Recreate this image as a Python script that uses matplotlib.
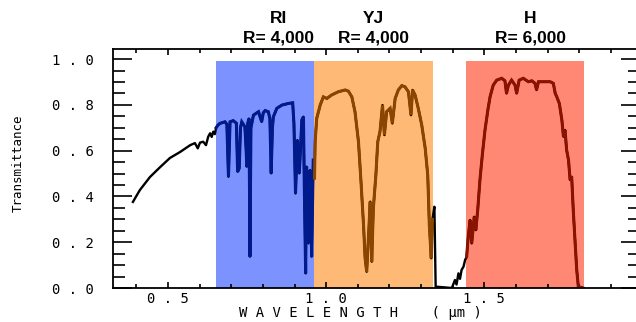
"""Atmospheric transmittance with spectrograph bands (RI, YJ, H)."""

import matplotlib

matplotlib.use("Agg")
import matplotlib.pyplot as plt
import numpy as np
from matplotlib.ticker import MultipleLocator

# transmittance curve (wavelength in micron)
wavelength = np.array([
    0.389, 0.411, 0.443, 0.475, 0.506, 0.538, 0.570, 0.585, 0.594, 0.601,
    0.611, 0.620, 0.627, 0.633, 0.638, 0.643, 0.648, 0.652,
    # RI
    0.658, 0.664, 0.680, 0.686, 0.691, 0.696, 0.706, 0.716, 0.720, 0.725,
    0.729, 0.733, 0.743, 0.747, 0.749, 0.752, 0.756, 0.759, 0.762, 0.770,
    0.786, 0.796, 0.801, 0.807, 0.817, 0.822, 0.826, 0.830, 0.833, 0.844,
    0.860, 0.880, 0.894, 0.898, 0.903, 0.909, 0.915, 0.923, 0.928, 0.931,
    0.935, 0.938, 0.944, 0.949, 0.954, 0.959,
    # YJ
    0.963, 0.965, 0.970, 0.981, 0.991, 1.002, 1.017, 1.038, 1.060, 1.070,
    1.081, 1.091, 1.102, 1.110, 1.118, 1.123, 1.128, 1.134, 1.139, 1.144,
    1.149, 1.157, 1.163, 1.170, 1.178, 1.184, 1.191, 1.202, 1.209, 1.218,
    1.228, 1.239, 1.249, 1.260, 1.268, 1.273, 1.281, 1.291, 1.302, 1.313,
    1.321, 1.326, 1.332, 1.336,
    # gap between YJ and H
    1.342, 1.346, 1.397, 1.400, 1.407, 1.412, 1.418, 1.423, 1.428, 1.434,
    1.439,
    # H
    1.444, 1.449, 1.455, 1.460, 1.468, 1.473, 1.479, 1.486, 1.494, 1.502,
    1.511, 1.518, 1.528, 1.539, 1.555, 1.565, 1.570, 1.576, 1.586, 1.597,
    1.602, 1.610, 1.623, 1.639, 1.650, 1.660, 1.665, 1.671, 1.686, 1.708,
    1.718, 1.724, 1.729, 1.737, 1.745, 1.750, 1.755, 1.760, 1.766, 1.771,
    1.776, 1.781, 1.787, 1.792, 1.797, 1.812,
])
transmittance = np.array([
    0.376, 0.428, 0.485, 0.528, 0.568, 0.594, 0.624, 0.633, 0.610, 0.635,
    0.639, 0.624, 0.661, 0.676, 0.660, 0.683, 0.672, 0.700,
    0.712, 0.719, 0.726, 0.715, 0.486, 0.726, 0.731, 0.720, 0.508, 0.523,
    0.700, 0.726, 0.704, 0.600, 0.530, 0.720, 0.740, 0.137, 0.700, 0.755,
    0.770, 0.726, 0.765, 0.775, 0.770, 0.740, 0.501, 0.700, 0.748, 0.785,
    0.799, 0.806, 0.809, 0.719, 0.413, 0.646, 0.501, 0.734, 0.748, 0.428,
    0.064, 0.530, 0.195, 0.515, 0.137, 0.559,
    0.480, 0.639, 0.741, 0.799, 0.835, 0.828, 0.843, 0.857, 0.865, 0.860,
    0.835, 0.770, 0.639, 0.464, 0.275, 0.130, 0.071, 0.231, 0.377, 0.115,
    0.348, 0.493, 0.639, 0.683, 0.799, 0.668, 0.770, 0.785, 0.719, 0.828,
    0.865, 0.884, 0.879, 0.857, 0.755, 0.865, 0.843, 0.785, 0.712, 0.610,
    0.493, 0.275, 0.130, 0.300,
    0.355, 0.006, 0.000, 0.010, 0.035, 0.015, 0.064, 0.040, 0.079, 0.093,
    0.122,
    0.137, 0.224, 0.297, 0.195, 0.311, 0.253, 0.341, 0.472, 0.588, 0.690,
    0.777, 0.835, 0.886, 0.908, 0.916, 0.905, 0.850, 0.886, 0.908, 0.886,
    0.850, 0.908, 0.916, 0.901, 0.905, 0.894, 0.865, 0.901, 0.901, 0.901,
    0.894, 0.850, 0.835, 0.806, 0.734, 0.661, 0.690, 0.603, 0.559, 0.472,
    0.486, 0.341, 0.195, 0.079, 0.006, 0.000,
])

# spectrograph bands
band_names = ["RI", "YJ", "H"]
band_resolution = ["R= 4,000", "R= 4,000", "R= 6,000"]
band_lo = [0.652, 0.962, 1.442]
band_hi = [0.962, 1.338, 1.815]
band_label_x = [0.848, 1.148, 1.645]
band_fill = ["#7b92ff", "#ffb976", "#ff8874"]
band_line = ["#001a8c", "#8a4500", "#8b1200"]

x_ticks = [0.5, 1.0, 1.5]
x_ticklabels = ["0 . 5", "1 . 0", "1 . 5"]
y_ticks = [0.0, 0.2, 0.4, 0.6, 0.8, 1.0]
y_ticklabels = ["0 . 0", "0 . 2", "0 . 4", "0 . 6", "0 . 8", "1 . 0"]

MONO = "DejaVu Sans Mono"

fig = plt.figure(figsize=(6.36, 3.22), dpi=100)
ax = fig.add_axes([113 / 636, 34 / 322, 527 / 636, 239 / 322])

for lo, hi, fill in zip(band_lo, band_hi, band_fill):
    ax.fill_between([lo, hi], 0, 0.99, color=fill, linewidth=0, zorder=1)

ax.plot(wavelength, transmittance, color="black", linewidth=1.7, zorder=2)
for lo, hi, col in zip(band_lo, band_hi, band_line):
    sel = (wavelength >= lo) & (wavelength <= hi)
    ax.plot(wavelength[sel], transmittance[sel], color=col, linewidth=2.2,
            solid_joinstyle="miter", zorder=3)

for name, res, xpos in zip(band_names, band_resolution, band_label_x):
    ax.text(xpos, 1.179, name, ha="center", va="center", fontsize=12.5,
            fontweight="bold", family="Liberation Sans", clip_on=False)
    ax.text(xpos, 1.090, res, ha="center", va="center", fontsize=12.5,
            fontweight="bold", family="Liberation Sans", clip_on=False)

ax.set_xlim(0.326, 1.992)
ax.set_ylim(0, 1.044)
ax.set_xticks(x_ticks)
ax.set_xticklabels(x_ticklabels, family=MONO, fontsize=10)
ax.set_yticks(y_ticks)
ax.set_yticklabels(y_ticklabels, family=MONO, fontsize=10)
ax.xaxis.set_minor_locator(MultipleLocator(0.1))
ax.yaxis.set_minor_locator(MultipleLocator(0.05))

ax.tick_params(axis="x", which="major", direction="in", length=4.5, width=1.2,
               top=True, bottom=True, pad=3)
ax.tick_params(axis="x", which="minor", direction="in", length=2.8, width=1.2,
               top=True, bottom=True)
ax.tick_params(axis="y", which="major", direction="in", length=14, width=1.2,
               left=True, right=True, pad=14)
ax.tick_params(axis="y", which="minor", direction="in", length=8.5, width=1.2,
               left=True, right=True)
for side in ax.spines.values():
    side.set_linewidth(1.3)
    side.set_zorder(4)

fig.text(18 / 636, 0.494, "Transmittance", rotation=90, ha="center",
         va="center", family=MONO, fontsize=9)
fig.text(360 / 636, 9 / 322, "W A V E L E N G T H    ( \u00b5m )", ha="center",
         va="center", family=MONO, fontsize=10)

fig.savefig("out.png", dpi=100)
plt.close(fig)
